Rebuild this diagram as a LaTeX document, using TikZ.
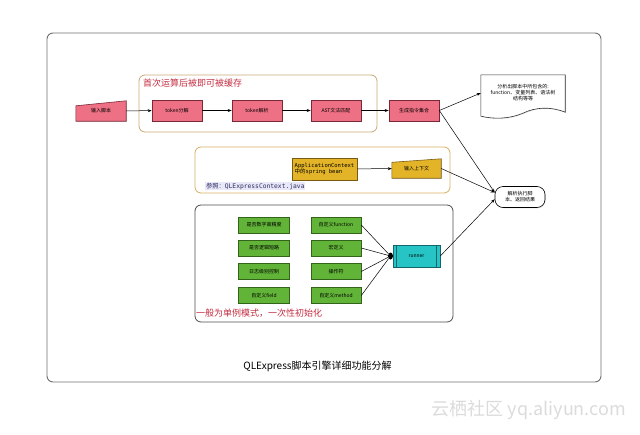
\documentclass[tikz,border=0pt]{standalone}
\usepackage{fontspec}
\setmainfont{Noto Sans CJK SC}
\setmonofont{DejaVu Sans Mono}
\usetikzlibrary{arrows.meta,backgrounds,calc,shadows,shapes.geometric}
\definecolor{pinkF}{RGB}{238,112,132}
\definecolor{pinkD}{RGB}{120,40,55}
\definecolor{greenF}{RGB}{98,180,56}
\definecolor{greenD}{RGB}{50,100,25}
\definecolor{yellowF}{RGB}{228,180,40}
\definecolor{yellowD}{RGB}{120,90,20}
\definecolor{cyanF}{RGB}{38,196,196}
\definecolor{cyanD}{RGB}{20,100,110}
\definecolor{tanB}{RGB}{200,168,120}
\definecolor{orangeB}{RGB}{215,175,95}
\definecolor{redT}{RGB}{195,45,65}
\definecolor{lavF}{RGB}{232,232,248}
\definecolor{blueT}{RGB}{45,45,95}
\definecolor{frameC}{RGB}{110,110,110}
\begin{document}
\begin{tikzpicture}[x=1pt,y=-1pt,
  tiny/.style={font=\fontsize{5}{6}\selectfont},
  sh/.style={drop shadow={opacity=0.2,shadow xshift=0.8pt,shadow yshift=-0.8pt}},
  pinkbox/.style={tiny,draw=pinkD,fill=pinkF,line width=0.6pt,minimum width=50pt,minimum height=21pt,inner sep=1pt,sh},
  greenbox/.style={tiny,draw=greenD,fill=greenF,line width=0.6pt,minimum height=16pt,inner sep=1pt,sh},
  plain/.style={tiny,minimum width=#1,inner sep=1pt},
  arr/.style={-{Stealth[length=4pt,width=3pt]},line width=0.5pt},
  ln/.style={line width=0.5pt},
  group/.style={rounded corners=6pt,line width=0.8pt,inner sep=0pt}]
\useasboundingbox (0,0) rectangle (640,434);

% outer frame
\node (frame) [draw=frameC,rounded corners=6pt,line width=0.9pt,minimum width=554pt,minimum height=349pt,inner sep=0pt] at (324,207.5) {};

% groups
\node (g1) [group,draw=tanB,minimum width=238pt,minimum height=57pt] at (258,103.5) {};
\node (g1l) [anchor=west,text=redT,font=\fontsize{9}{10}\selectfont,inner sep=0pt] at (143,83) {首次运算后被即可被缓存};
\node (g2) [group,draw=orangeB,minimum width=255pt,minimum height=46pt] at (322.5,170) {};
\node (g2l) [anchor=west,fill=lavF,text=blueT,font=\fontsize{6.3}{7}\selectfont,inner sep=0.8pt] at (205,186) {参照：{\ttfamily QLExpressContext.java}};
\node (g3) [group,draw=black!70,minimum width=258pt,minimum height=117pt] at (324,263.5) {};
\node (g3l) [anchor=west,text=redT,font=\fontsize{9}{10}\selectfont,inner sep=0pt] at (196,313) {一般为单例模式，一次性初始化};

% top row
\node (in) [plain=50pt,minimum height=20pt] at (101,111) {输入脚本};
\begin{scope}[on background layer]
\path[fill=pinkF,draw=pinkD,line width=0.6pt,sh] (in.south west) -- (in.south east) -- (in.north east) -- ($(in.north west)+(0,5)$) -- cycle;
\end{scope}
\node (t1) [pinkbox] at (177,110.5) {token分解};
\node (t2) [pinkbox] at (257,110.5) {token解析};
\node (ast) [pinkbox] at (336,110.5) {AST文法匹配};
\node (gen) [pinkbox] at (414,110.5) {生成指令集合};
\draw[arr] (in) -- (t1);
\draw[arr] (t1) -- (t2);
\draw[arr] (t2) -- (ast);
\draw[arr] (ast) -- (gen);

% document
\node (doc) [plain=84pt,minimum height=36pt,align=center] at (523,93) {分析出脚本中所包含的:\\function、变量列表、语法树\\结构等等};
\begin{scope}[on background layer]
\path[fill=white,draw=black!80,line width=0.6pt,sh] (doc.north west) -- (doc.north east) -- ($(doc.south east)+(0,1)$)
  .. controls ($(doc.south east)+(-15,-5)$) and ($(doc.south east)+(-30,-4)$) .. ($(doc.south)+(0,2)$)
  .. controls ($(doc.south west)+(28,8)$) and ($(doc.south west)+(13,8)$) .. ($(doc.south west)+(0,5)$) -- cycle;
\end{scope}
\draw[arr] (gen.east) -- (doc.west);

% context row
\node (app) [font=\fontsize{5.5}{6.5}\ttfamily,draw=yellowD,fill=yellowF,line width=0.6pt,minimum width=65pt,minimum height=22pt,inner sep=1.5pt,align=left,sh] at (324.5,169) {ApplicationContext\\{\rmfamily 中的}spring bean};
\node (ctx) [plain=49pt,minimum height=19pt] at (416.5,168.5) {输入上下文};
\begin{scope}[on background layer]
\path[fill=yellowF,draw=yellowD,line width=0.6pt,sh] (ctx.south west) -- (ctx.south east) -- (ctx.north east) -- ($(ctx.north west)+(0,3.5)$) -- cycle;
\end{scope}
\draw[arr] (app) -- (ctx);

% result node
\node (sol) [tiny,draw=black,fill=white,rounded corners=8pt,line width=0.6pt,minimum width=50pt,minimum height=21pt,inner sep=1pt,align=center,sh] at (520,197) {解析执行脚\\本、返回结果};

% config boxes
\node (c1) [greenbox,minimum width=51pt] at (264,225) {是否数字高精度};
\node (c2) [greenbox,minimum width=51pt] at (264,248) {是否逻辑短路};
\node (c3) [greenbox,minimum width=51pt] at (264,271.5) {日志级别控制};
\node (c4) [greenbox,minimum width=51pt] at (264,295.5) {自定义field};
\node (f1) [greenbox,minimum width=50pt] at (336,225) {自定义function};
\node (f2) [greenbox,minimum width=50pt] at (336,248) {宏定义};
\node (f3) [greenbox,minimum width=50pt] at (336,271.5) {操作符};
\node (f4) [greenbox,minimum width=50pt] at (336,295.5) {自定义method};

% runner
\node (runner) [tiny,draw=cyanD,fill=cyanF,line width=0.6pt,minimum width=47pt,minimum height=22pt,inner sep=1pt,sh] at (416.5,256) {runner};
\draw[cyanD,line width=0.6pt] ($(runner.north west)+(4,0)$) -- ($(runner.south west)+(4,0)$);
\draw[cyanD,line width=0.6pt] ($(runner.north east)+(-4,0)$) -- ($(runner.south east)+(-4,0)$);
\node (jn) [ellipse,fill=black,minimum width=5pt,minimum height=7pt,inner sep=0pt] at (390.5,256) {};
\draw[ln] (f1.east) -- (jn);
\draw[ln] (f2.east) -- (jn);
\draw[ln] (f3.east) -- (jn);
\draw[ln] (f4.east) -- (jn);

% to result
\draw[arr] (gen.east) -- (sol.170);
\draw[arr] (ctx.east) -- (sol.170);
\draw[arr] (runner.east) -- (sol.185);

% title and watermark
\node (title) [font=\fontsize{10}{12}\selectfont,inner sep=0pt] at (317.5,366) {QLExpress脚本引擎详细功能分解};
\node (wm) [font=\fontsize{18}{20}\selectfont,text=black!14,inner sep=0pt] at (529,410) {云栖社区 yq.aliyun.com};
\end{tikzpicture}
\end{document}
